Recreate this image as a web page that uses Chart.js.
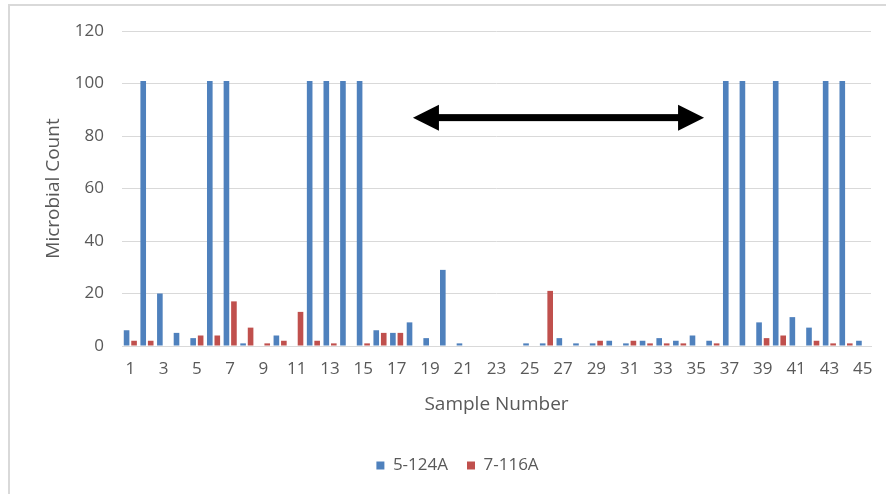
<!DOCTYPE html>
<html>
<head>
<meta charset="utf-8">
<script src="https://cdn.jsdelivr.net/npm/chart.js@4.4.1/dist/chart.umd.min.js"></script>
<style>
  html, body { margin: 0; padding: 0; background: #fff; }
  #wrap { position: relative; width: 886px; height: 494px; }
  #frame { position: absolute; left: 8px; top: 4px; right: -2px; bottom: -2px; border-left: 2px solid #d9d9d9; border-top: 2px solid #d9d9d9; pointer-events: none; }
  canvas { position: absolute; left: 0; top: 0; }
</style>
</head>
<body>
<div id="wrap">
  <canvas id="c" width="886" height="494"></canvas>
  <div id="frame"></div>
</div>
<script>
const categories = ['1','2','3','4','5','6','7','8','9','10','11','12','13','14','15','16','17','18','19','20','21','22','23','24','25','26','27','28','29','30','31','32','33','34','35','36','37','38','39','40','41','42','43','44','45'];
const series5_124A = [6,101,20,5,3,101,101,1,0,4,0,101,101,101,101,6,5,9,3,29,1,0,0,0,1,1,3,1,1,2,1,2,3,2,4,2,101,101,9,101,11,7,101,101,2];
const series7_116A = [2,2,0,0,4,4,17,7,1,2,13,2,1,0,1,5,5,0,0,0,0,0,0,0,0,21,0,0,2,0,2,1,1,1,0,1,0,0,3,4,0,2,1,1,0];
const yTicks = [0,20,40,60,80,100,120];
const arrowSpan = [16.98, 34.47];
const arrowLevel = 87;

const FONT = "'Open Sans', sans-serif";
const TXT = '#595959';

const arrowPlugin = {
  id: 'arrow',
  afterDatasetsDraw(chart) {
    const {ctx, scales: {x, y}} = chart;
    const x1 = x.getPixelForValue(arrowSpan[0]);
    const x2 = x.getPixelForValue(arrowSpan[1]);
    const yy = y.getPixelForValue(arrowLevel);
    const head = 26, half = 13, shaft = 7;
    ctx.save();
    ctx.fillStyle = '#000';
    ctx.fillRect(x1 + head - 4, yy - shaft / 2, (x2 - x1) - 2 * head + 8, shaft);
    ctx.beginPath();
    ctx.moveTo(x1, yy); ctx.lineTo(x1 + head, yy - half); ctx.lineTo(x1 + head, yy + half); ctx.closePath();
    ctx.fill();
    ctx.beginPath();
    ctx.moveTo(x2, yy); ctx.lineTo(x2 - head, yy - half); ctx.lineTo(x2 - head, yy + half); ctx.closePath();
    ctx.fill();
    ctx.restore();
  }
};

new Chart(document.getElementById('c'), {
  type: 'bar',
  data: {
    labels: categories,
    datasets: [
      { label: '5-124A', data: series5_124A, backgroundColor: '#4F81BD', barPercentage: 0.75, categoryPercentage: 0.9 },
      { label: '7-116A', data: series7_116A, backgroundColor: '#C0504D', barPercentage: 0.75, categoryPercentage: 0.9 }
    ]
  },
  options: {
    responsive: false,
    animation: false,
    devicePixelRatio: 1,
    layout: { padding: { left: 44, right: 15, top: 31, bottom: 10 } },
    plugins: {
      legend: {
        position: 'bottom',
        labels: { boxWidth: 8, boxHeight: 8, padding: 19, color: TXT, font: { family: FONT, size: 17 } }
      },
      tooltip: { enabled: false }
    },
    scales: {
      x: {
        grid: { display: false, drawTicks: false },
        border: { display: true, color: '#d9d9d9', width: 1 },
        ticks: {
          autoSkip: false, maxRotation: 0, minRotation: 0, padding: 13,
          color: TXT, font: { family: FONT, size: 17 },
          callback: function(v, i) { return i % 2 === 0 ? categories[i] : ''; }
        },
        title: { display: true, text: 'Sample Number', color: TXT, font: { family: FONT, size: 19 }, padding: { top: 0, bottom: 22 } },
        afterFit(s) { s.height = 92; }
      },
      y: {
        min: 0, max: 120,
        afterBuildTicks(s) { s.ticks = yTicks.map(v => ({ value: v })); },
        grid: { color: '#d9d9d9', drawTicks: false },
        border: { display: false },
        ticks: { padding: 18, color: TXT, font: { family: FONT, size: 17 } },
        title: { display: true, text: 'Microbial Count', color: TXT, font: { family: FONT, size: 19, lineHeight: 1.0 }, padding: { top: 0, bottom: 0 } },
        afterFit(s) { s.width = 78; }
      }
    }
  },
  plugins: [arrowPlugin]
});
</script>
</body>
</html>
